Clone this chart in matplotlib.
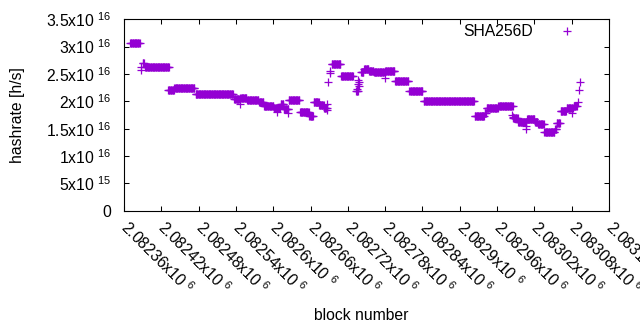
import numpy as np
import matplotlib
matplotlib.use('Agg')
import matplotlib.pyplot as plt

plt.rcParams['font.family'] = 'Liberation Sans'
plt.rcParams['font.size'] = 11.3
plt.rcParams['mathtext.fontset'] = 'custom'
plt.rcParams['mathtext.rm'] = 'Liberation Sans'
plt.rcParams['mathtext.it'] = 'Liberation Sans:italic'
plt.rcParams['mathtext.default'] = 'regular'

#runs of blocks sharing the same hashrate estimate (start, end exclusive, rate)
run_start = [2082370, 2082390, 2082394, 2082431, 2082441, 2082475, 2082537, 2082547,
             2082558, 2082577, 2082585, 2082601, 2082612, 2082617, 2082625, 2082643,
             2082658, 2082665, 2082674, 2082682, 2082694, 2082709, 2082733, 2082741,
             2082746, 2082754, 2082762, 2082780, 2082796, 2082819, 2082842, 2082924,
             2082940, 2082943, 2082962, 2082986, 2082994, 2083008, 2083021, 2083026,
             2083036, 2083053, 2083056, 2083062, 2083072, 2083083]
run_end = [2082386, 2082393, 2082433, 2082441, 2082474, 2082536, 2082547, 2082558,
           2082577, 2082585, 2082601, 2082612, 2082617, 2082625, 2082643, 2082658,
           2082665, 2082674, 2082682, 2082687, 2082709, 2082729, 2082737, 2082746,
           2082754, 2082762, 2082779, 2082796, 2082818, 2082841, 2082924, 2082940,
           2082943, 2082962, 2082986, 2082994, 2083008, 2083021, 2083026, 2083036,
           2083053, 2083056, 2083062, 2083072, 2083083, 2083089]
run_rate = [3.06e16, 2.71e16, 2.62e16, 2.20e16, 2.24e16, 2.13e16, 2.04e16, 2.07e16,
            2.02e16, 1.98e16, 1.91e16, 1.87e16, 1.95e16, 1.86e16, 2.02e16, 1.80e16,
            1.73e16, 1.98e16, 1.93e16, 1.87e16, 2.69e16, 2.46e16, 2.18e16, 2.54e16,
            2.60e16, 2.56e16, 2.53e16, 2.55e16, 2.37e16, 2.18e16, 2.01e16, 1.73e16,
            1.78e16, 1.88e16, 1.92e16, 1.69e16, 1.63e16, 1.68e16, 1.63e16, 1.59e16,
            1.43e16, 1.49e16, 1.60e16, 1.83e16, 1.88e16, 1.91e16]

#isolated points
single_block = [2082387, 2082387, 2082547, 2082606, 2082623, 2082686, 2082686, 2082688,
                2082692, 2082692, 2082734, 2082736, 2082736, 2082738, 2082738, 2082779,
                2082984, 2082986, 2083007, 2083007, 2083080, 2083090, 2083092, 2083094]
single_rate = [2.62e16, 2.57e16, 1.96e16, 1.81e16, 1.78e16, 1.96e16, 1.84e16, 2.36e16,
               2.56e16, 2.51e16, 2.22e16, 2.39e16, 2.31e16, 2.28e16, 2.36e16, 2.42e16,
               1.75e16, 1.72e16, 1.54e16, 1.49e16, 1.79e16, 1.99e16, 2.21e16, 2.35e16]

x_ticks = [2082360, 2082420, 2082480, 2082540, 2082600, 2082660, 2082720, 2082780,
           2082840, 2082900, 2082960, 2083020, 2083080, 2083140]
x_tick_labels = ['2.08236', '2.08242', '2.08248', '2.08254', '2.0826', '2.08266', '2.08272',
                 '2.08278', '2.08284', '2.0829', '2.08296', '2.08302', '2.08308', '2.08314']
y_ticks = [0, 5e15, 1e16, 1.5e16, 2e16, 2.5e16, 3e16, 3.5e16]
y_tick_labels = ['0', '5x10 $^{15}$', '1x10 $^{16}$', '1.5x10 $^{16}$', '2x10 $^{16}$',
                 '2.5x10 $^{16}$', '3x10 $^{16}$', '3.5x10 $^{16}$']

blocks = []
rates = []
for s, e, r in zip(run_start, run_end, run_rate):
    for b in range(s, e):
        blocks.append(b)
        rates.append(r)
blocks += single_block
rates += single_rate

fig = plt.figure(figsize=(6.4, 3.3), dpi=100)
ax = fig.add_axes([124/640, 1-210.7/330, 485/640, 191.4/330])

ax.plot(blocks, rates, '+', color='#9400d3', markersize=5.5, markeredgewidth=0.9,
        label='SHA256D')

ax.set_xlim(2082360, 2083140)
ax.set_ylim(0, 3.5e16)
ax.set_xticks(x_ticks)
ax.set_xticklabels([l + 'x10 $^{6}$' for l in x_tick_labels], rotation=-45,
                   ha='left', va='center', rotation_mode='anchor')
ax.set_yticks(y_ticks)
ax.set_yticklabels(y_tick_labels)
ax.tick_params(direction='in', length=3.5, width=0.75, top=True, right=True, colors='black')
ax.tick_params(axis='y', pad=9)
ax.tick_params(axis='x', pad=10)
for sp in ax.spines.values():
    sp.set_linewidth(0.8)

ax.set_xlabel('block number')
ax.set_ylabel('hashrate [h/s]')
ax.xaxis.set_label_coords(0.49, -0.51)
ax.yaxis.set_label_coords(-0.205, 0.5)

ax.legend(loc='center right', bbox_to_anchor=(0.946, 0.934), frameon=False,
          markerfirst=False, handlelength=2, handletextpad=1.17, borderpad=0,
          borderaxespad=0, fontsize=11.3)

fig.savefig('out.png', dpi=100)
